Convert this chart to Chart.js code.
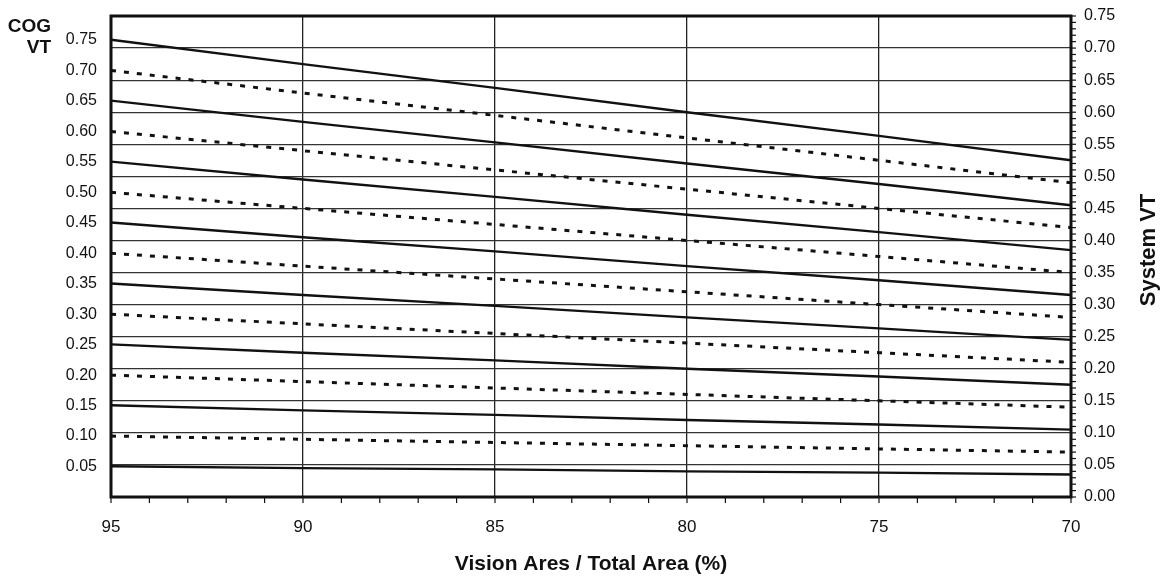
<!DOCTYPE html>
<html lang="en">
<head>
  <meta charset="UTF-8">
  <title>System VT vs Vision Area</title>
  <script src="https://cdn.jsdelivr.net/npm/chart.js"></script>
  <style>
    html, body {
      margin: 0;
      padding: 0;
      background: #fff;
    }
    .chart-container {
      width: 1169px;
      height: 583px;
    }
  </style>
</head>
<body>

  <div class="chart-container">
    <canvas id="vtChart"></canvas>
  </div>

  <script>
    // x positions (vision area / total area, %)
    const visionArea = [95, 90, 85, 80, 75, 70];

    // COG VT labels on the left, one per line
    const cogLabels = ['0.75', '0.70', '0.65', '0.60', '0.55', '0.50', '0.45', '0.40',
                       '0.35', '0.30', '0.25', '0.20', '0.15', '0.10', '0.05'];

    // System VT
    const vt75 = [0.713, 0.675, 0.638, 0.600, 0.563, 0.525];
    const vt70 = [0.665, 0.630, 0.595, 0.560, 0.525, 0.490];
    const vt65 = [0.618, 0.585, 0.553, 0.520, 0.488, 0.455];
    const vt60 = [0.570, 0.540, 0.510, 0.480, 0.450, 0.420];
    const vt55 = [0.523, 0.495, 0.468, 0.440, 0.413, 0.385];
    const vt50 = [0.475, 0.450, 0.425, 0.400, 0.375, 0.350];
    const vt45 = [0.428, 0.405, 0.383, 0.360, 0.338, 0.315];
    const vt40 = [0.380, 0.360, 0.340, 0.320, 0.300, 0.280];
    const vt35 = [0.333, 0.315, 0.298, 0.280, 0.263, 0.245];
    const vt30 = [0.285, 0.270, 0.255, 0.240, 0.225, 0.210];
    const vt25 = [0.238, 0.225, 0.213, 0.200, 0.188, 0.175];
    const vt20 = [0.190, 0.180, 0.170, 0.160, 0.150, 0.140];
    const vt15 = [0.143, 0.135, 0.128, 0.120, 0.113, 0.105];
    const vt10 = [0.095, 0.090, 0.085, 0.080, 0.075, 0.070];
    const vt05 = [0.048, 0.045, 0.043, 0.040, 0.038, 0.035];

    const seriesList = [vt75, vt70, vt65, vt60, vt55, vt50, vt45, vt40,
                        vt35, vt30, vt25, vt20, vt15, vt10, vt05];

    // right axis ticks (System VT)
    const systemTicks = [0.00, 0.05, 0.10, 0.15, 0.20, 0.25, 0.30, 0.35,
                         0.40, 0.45, 0.50, 0.55, 0.60, 0.65, 0.70, 0.75];

    const FONT = "'Liberation Sans', Arial, sans-serif";

    const datasets = seriesList.map((vals, i) => {
      const dashed = i % 2 === 1;
      return {
        label: 'COG VT ' + cogLabels[i],
        data: vals.map((v, j) => ({ x: visionArea[j], y: v })),
        borderColor: '#111',
        borderWidth: dashed ? 3 : 2.4,
        borderDash: dashed ? [5, 8] : [],
        borderCapStyle: 'butt',
        pointRadius: 0,
        fill: false,
        tension: 0,
        yAxisID: 'y'
      };
    });

    // no extra room above/below the vertical axes
    function noEndPadding(scale) {
      scale.paddingTop = 0;
      scale.paddingBottom = 0;
    }

    // frame, minor ticks and the extra titles
    const framePlugin = {
      id: 'framePlugin',
      afterDraw(chart) {
        const ctx = chart.ctx;
        const a = chart.chartArea;
        const xs = chart.scales.x;
        const ys = chart.scales.y;
        ctx.save();
        ctx.strokeStyle = '#111';

        ctx.lineWidth = 1.2;
        for (let v = 70; v <= 95; v++) {
          const px = xs.getPixelForValue(v);
          ctx.beginPath();
          ctx.moveTo(px, a.bottom);
          ctx.lineTo(px, a.bottom + 6);
          ctx.stroke();
        }
        for (let k = 0; k <= 75; k++) {
          const py = ys.getPixelForValue(k / 100);
          ctx.beginPath();
          ctx.moveTo(a.right, py);
          ctx.lineTo(a.right + 5, py);
          ctx.stroke();
        }

        ctx.lineWidth = 3;
        ctx.strokeRect(a.left, a.top, a.right - a.left, a.bottom - a.top);

        ctx.fillStyle = '#111';
        ctx.font = 'bold 19px ' + FONT;
        ctx.textAlign = 'right';
        ctx.textBaseline = 'alphabetic';
        ctx.fillText('COG', 51, 32);
        ctx.fillText('VT', 51, 53);

        ctx.font = 'bold 22px ' + FONT;
        ctx.translate(1149, 250);
        ctx.rotate(-Math.PI / 2);
        ctx.textAlign = 'center';
        ctx.textBaseline = 'middle';
        ctx.fillText('System VT', 0, 0);
        ctx.restore();
      }
    };

    const ctxVT = document.getElementById('vtChart').getContext('2d');
    const vtChart = new Chart(ctxVT, {
      type: 'line',
      data: { datasets: datasets },
      options: {
        responsive: true,
        maintainAspectRatio: false,
        animation: false,
        layout: { padding: { top: 16, left: 0, right: 0, bottom: 0 } },
        plugins: {
          legend: { display: false },
          tooltip: { enabled: false }
        },
        scales: {
          x: {
            type: 'linear',
            reverse: true,
            min: 70,
            max: 95,
            afterFit(scale) { scale.height = 86; },
            ticks: {
              stepSize: 5,
              color: '#111',
              padding: 20,
              font: { family: FONT, size: 17 }
            },
            grid: { color: '#222', lineWidth: 1.3, drawTicks: false },
            border: { display: false },
            title: {
              display: true,
              text: 'Vision Ares / Total Area (%)',
              color: '#111',
              font: { family: FONT, size: 21, weight: 'bold' },
              padding: { top: 0, bottom: 6 }
            }
          },
          y: {
            type: 'linear',
            position: 'right',
            min: 0,
            max: 0.75,
            afterFit(scale) { scale.width = 98; noEndPadding(scale); },
            afterBuildTicks(scale) {
              scale.ticks = systemTicks.map(v => ({ value: v }));
            },
            ticks: {
              color: '#111',
              padding: 13,
              font: { family: FONT, size: 16 },
              callback: v => v.toFixed(2)
            },
            grid: { color: '#333', lineWidth: 1.2, drawTicks: false },
            border: { display: false }
          },
          yl: {
            type: 'linear',
            position: 'left',
            min: 0,
            max: 0.75,
            afterFit(scale) { scale.width = 111; noEndPadding(scale); },
            afterBuildTicks(scale) {
              scale.ticks = seriesList.map(s => ({ value: s[0] }));
            },
            ticks: {
              color: '#111',
              padding: 14,
              font: { family: FONT, size: 16 },
              callback: (v, i) => cogLabels[i]
            },
            grid: { display: false, drawTicks: false },
            border: { display: false }
          }
        }
      },
      plugins: [framePlugin]
    });
  </script>

</body>
</html>
